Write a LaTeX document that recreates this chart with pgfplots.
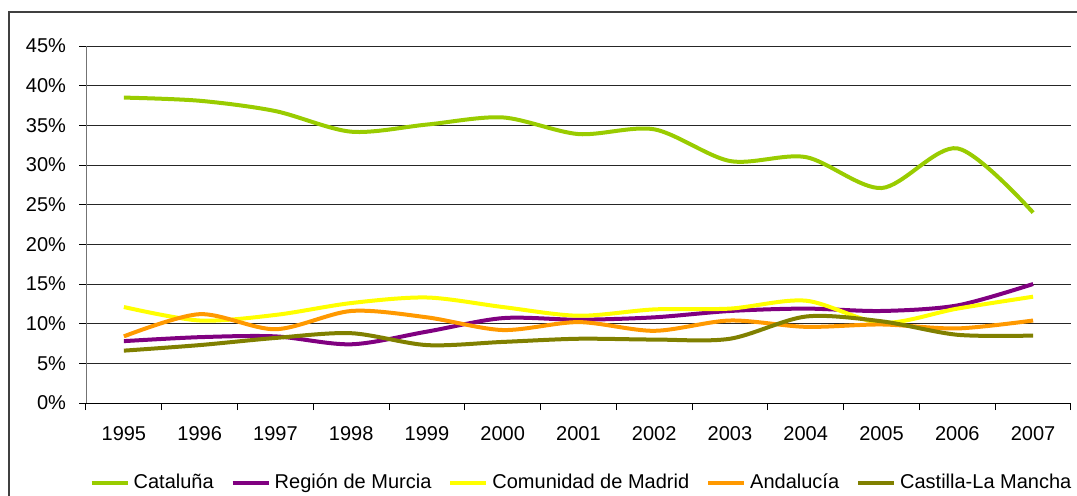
\documentclass[border=0pt]{standalone}
\usepackage{pgfplots}
\pgfplotsset{compat=1.18}
\usepackage{pgfplotstable}
\usepackage{fontspec}
\setmainfont{Liberation Sans}

\definecolor{catcol}{HTML}{99CC00}
\definecolor{murcol}{HTML}{800080}
\definecolor{madcol}{HTML}{FFFF00}
\definecolor{andcol}{HTML}{FF9900}
\definecolor{clmcol}{HTML}{808000}

% porcentaje por comunidad y año
\pgfplotstableread{
year cat  mur  mad  and  clm
1995 38.5 7.8  12.1 8.4  6.6
1996 38.1 8.3  10.4 11.2 7.3
1997 36.8 8.4  11.1 9.3  8.2
1998 34.2 7.4  12.6 11.6 8.8
1999 35.1 9.0  13.3 10.8 7.3
2000 36.0 10.7 12.1 9.2  7.7
2001 33.9 10.5 11.0 10.2 8.1
2002 34.5 10.8 11.8 9.1  8.0
2003 30.5 11.6 11.9 10.4 8.1
2004 31.0 11.9 12.9 9.6  10.9
2005 27.1 11.6 10.1 9.9  10.3
2006 32.1 12.3 11.9 9.4  8.6
2007 24.0 15.0 13.4 10.4 8.5
}\datatable

\begin{document}
\begin{tikzpicture}
\useasboundingbox (-43pt,-46pt) rectangle (495.5pt,201.5pt);
% marco del gráfico
\draw[line width=1pt, black!75] (-38.5pt,-80pt) -- (-38.5pt,195.5pt) -- (520pt,195.5pt);
\begin{axis}[
    at={(0pt,0pt)}, anchor=south west,
    scale only axis,
    width=492.5pt, height=178.5pt,
    xmin=1994.5, xmax=2007.5,
    ymin=0, ymax=45,
    axis lines*=left,
    x axis line style={black},
    y axis line style={black!55},
    xtick={1994.5,1995.5,...,2007.5},
    xticklabels={},
    extra x ticks={1995,...,2007},
    extra x tick style={major tick length=0pt, grid=none},
    extra x tick labels={1995,1996,1997,1998,1999,2000,2001,2002,2003,2004,2005,2006,2007},
    ytick={0,5,...,45},
    yticklabel={\pgfmathprintnumber{\tick}\%},
    /pgf/number format/assume math mode=true,
    tick align=outside,
    major tick length=3.5pt,
    tick style={black, line width=0.5pt},
    ymajorgrids,
    grid style={black!85, line width=0.5pt},
    tick label style={font=\fontsize{10}{12}\selectfont},
    xticklabel style={yshift=-8pt},
    yticklabel style={xshift=-3pt},
    legend columns=5,
    legend style={at={(axis description cs:0.5,0)}, anchor=center, yshift=-40pt,
        xshift=2pt,
        draw=none, fill=none, font=\fontsize{10}{12}\selectfont,
        /tikz/every even column/.append style={column sep=6.5pt}},
    legend image code/.code={\draw[#1] (0pt,0pt) -- (18pt,0pt);},
    every axis plot/.append style={line width=2pt, smooth, no markers},
]
\addplot[catcol] table[x=year, y=cat] {\datatable};
\addlegendentry{Cataluña}
\addplot[murcol] table[x=year, y=mur] {\datatable};
\addlegendentry{Región de Murcia}
\addplot[madcol] table[x=year, y=mad] {\datatable};
\addlegendentry{Comunidad de Madrid}
\addplot[andcol] table[x=year, y=and] {\datatable};
\addlegendentry{Andalucía}
\addplot[clmcol] table[x=year, y=clm] {\datatable};
\addlegendentry{Castilla-La Mancha}
\end{axis}
\end{tikzpicture}
\end{document}
